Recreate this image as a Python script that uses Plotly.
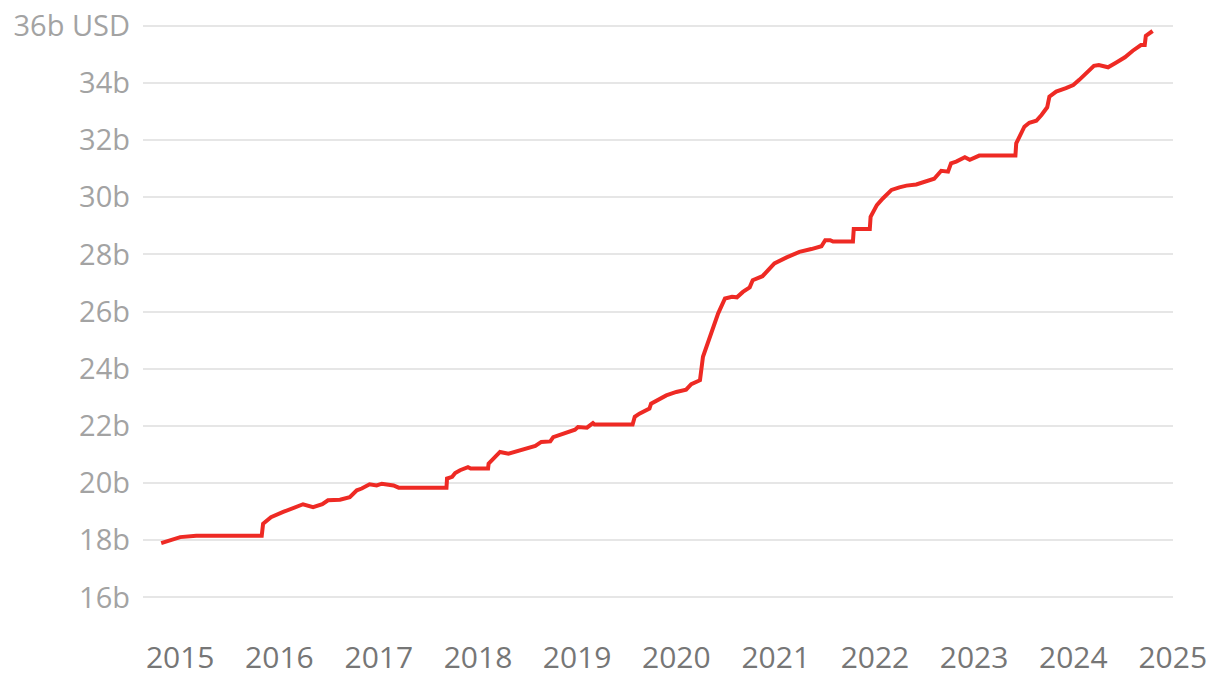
"""
Line chart of a debt total, 2015-2024, flat stretches at the ceiling.
"""

import plotly.graph_objects as go

# Readings taken off the reference chart (date, value in "b")
dates = [
    "2014-10-23", "2015-01-01", "2015-03-01", "2015-10-28", "2015-11-02",
    "2015-12-01", "2016-01-15", "2016-03-07", "2016-03-28", "2016-05-04",
    "2016-06-07", "2016-06-28", "2016-08-11", "2016-09-16", "2016-10-12",
    "2016-10-30", "2016-11-28", "2016-12-24", "2017-01-12", "2017-02-24",
    "2017-03-15", "2017-09-07", "2017-09-09", "2017-09-28", "2017-10-09",
    "2017-10-27", "2017-11-25", "2017-12-05", "2018-02-07", "2018-02-09",
    "2018-03-01", "2018-03-23", "2018-04-23", "2018-05-23", "2018-06-28",
    "2018-07-31", "2018-08-22", "2018-09-24", "2018-10-05", "2018-11-03",
    "2018-11-29", "2018-12-24", "2019-01-04", "2019-02-06", "2019-02-28",
    "2019-03-06", "2019-07-24", "2019-08-01", "2019-08-18", "2019-09-24",
    "2019-09-30", "2019-10-27", "2019-11-25", "2020-01-01", "2020-02-06",
    "2020-02-25", "2020-03-28", "2020-04-08", "2020-05-05", "2020-06-03",
    "2020-06-28", "2020-07-24", "2020-08-11", "2020-09-02", "2020-09-27",
    "2020-10-08", "2020-11-13", "2020-12-01", "2020-12-27", "2021-02-10",
    "2021-03-29", "2021-05-12", "2021-06-18", "2021-07-02", "2021-07-20",
    "2021-07-31", "2021-10-12", "2021-10-15", "2021-12-13", "2021-12-16",
    "2022-01-08", "2022-01-30", "2022-03-03", "2022-04-01", "2022-04-27",
    "2022-06-02", "2022-07-09", "2022-08-07", "2022-09-02", "2022-09-27",
    "2022-10-08", "2022-10-27", "2022-11-28", "2022-12-16", "2023-01-20",
    "2023-06-02", "2023-06-05", "2023-07-05", "2023-07-23", "2023-08-18",
    "2023-09-06", "2023-09-27", "2023-10-05", "2023-10-30", "2023-12-05",
    "2024-01-01", "2024-01-23", "2024-02-24", "2024-03-17", "2024-04-04",
    "2024-05-08", "2024-06-06", "2024-07-09", "2024-08-07", "2024-09-06",
    "2024-09-20", "2024-09-24", "2024-10-19",
]

debt = [
    17.90, 18.11, 18.16, 18.16, 18.58,
    18.81, 18.99, 19.16, 19.26, 19.16,
    19.26, 19.40, 19.42, 19.51, 19.75,
    19.81, 19.96, 19.92, 19.98, 19.92,
    19.84, 19.84, 20.16, 20.22, 20.35,
    20.45, 20.56, 20.51, 20.51, 20.68,
    20.89, 21.09, 21.03, 21.11, 21.21,
    21.30, 21.44, 21.46, 21.61, 21.70,
    21.81, 21.87, 21.96, 21.94, 22.10,
    22.05, 22.05, 22.32, 22.43, 22.61,
    22.78, 22.93, 23.07, 23.19, 23.27,
    23.46, 23.60, 24.42, 25.12, 25.94,
    26.46, 26.52, 26.50, 26.69, 26.85,
    27.10, 27.24, 27.43, 27.69, 27.90,
    28.09, 28.19, 28.29, 28.50, 28.50,
    28.45, 28.45, 28.89, 28.89, 29.32,
    29.73, 29.96, 30.26, 30.35, 30.41,
    30.45, 30.55, 30.65, 30.93, 30.90,
    31.19, 31.25, 31.40, 31.31, 31.46,
    31.46, 31.89, 32.47, 32.61, 32.68,
    32.88, 33.15, 33.52, 33.70, 33.82,
    33.93, 34.11, 34.40, 34.60, 34.63,
    34.55, 34.71, 34.90, 35.13, 35.33,
    35.33, 35.65, 35.82,
]

y_ticks = [16, 18, 20, 22, 24, 26, 28, 30, 32, 34, 36]
y_tick_labels = ["16b", "18b", "20b", "22b", "24b", "26b", "28b", "30b", "32b", "34b", "36b USD"]

year_ticks = ["2015-01-01", "2016-01-01", "2017-01-01", "2018-01-01", "2019-01-01",
              "2020-01-01", "2021-01-01", "2022-01-01", "2023-01-01", "2024-01-01",
              "2025-01-01"]
year_labels = ["2015", "2016", "2017", "2018", "2019", "2020",
               "2021", "2022", "2023", "2024", "2025"]

LINE_RED = "#EE2A24"
FONT = "'Open Sans', sans-serif"

fig = go.Figure()

fig.add_trace(
    go.Scatter(
        x=dates,
        y=debt,
        mode="lines",
        line=dict(color=LINE_RED, width=4),
        showlegend=False,
        hovertemplate="%{x|%b %Y}: %{y:.2f}b USD<extra></extra>",
    )
)

# the page body adds an 8px offset, margins are set to cancel it
fig.update_layout(
    width=1220,
    height=682,
    margin=dict(l=135, r=55, t=15, b=64),
    paper_bgcolor="white",
    plot_bgcolor="white",
    font=dict(family=FONT),
)

fig.update_xaxes(
    range=["2014-08-17", "2025-01-02"],
    tickvals=year_ticks,
    ticktext=year_labels,
    showgrid=False,
    zeroline=False,
    showline=False,
    ticks="",
    automargin=False,
    ticklabeloverflow="allow",
    ticklabelstandoff=11,
    tickfont=dict(size=30, color="#767676", family=FONT),
)

fig.update_yaxes(
    range=[15.0, 36.1],
    tickvals=y_ticks,
    ticktext=y_tick_labels,
    showgrid=True,
    gridcolor="#E6E6E6",
    gridwidth=2,
    zeroline=False,
    showline=False,
    ticks="",
    automargin=False,
    ticklabeloverflow="allow",
    ticklabelstandoff=12,
    tickfont=dict(size=29, color="#A3A3A3", family=FONT),
)

fig.write_html("out.html")
